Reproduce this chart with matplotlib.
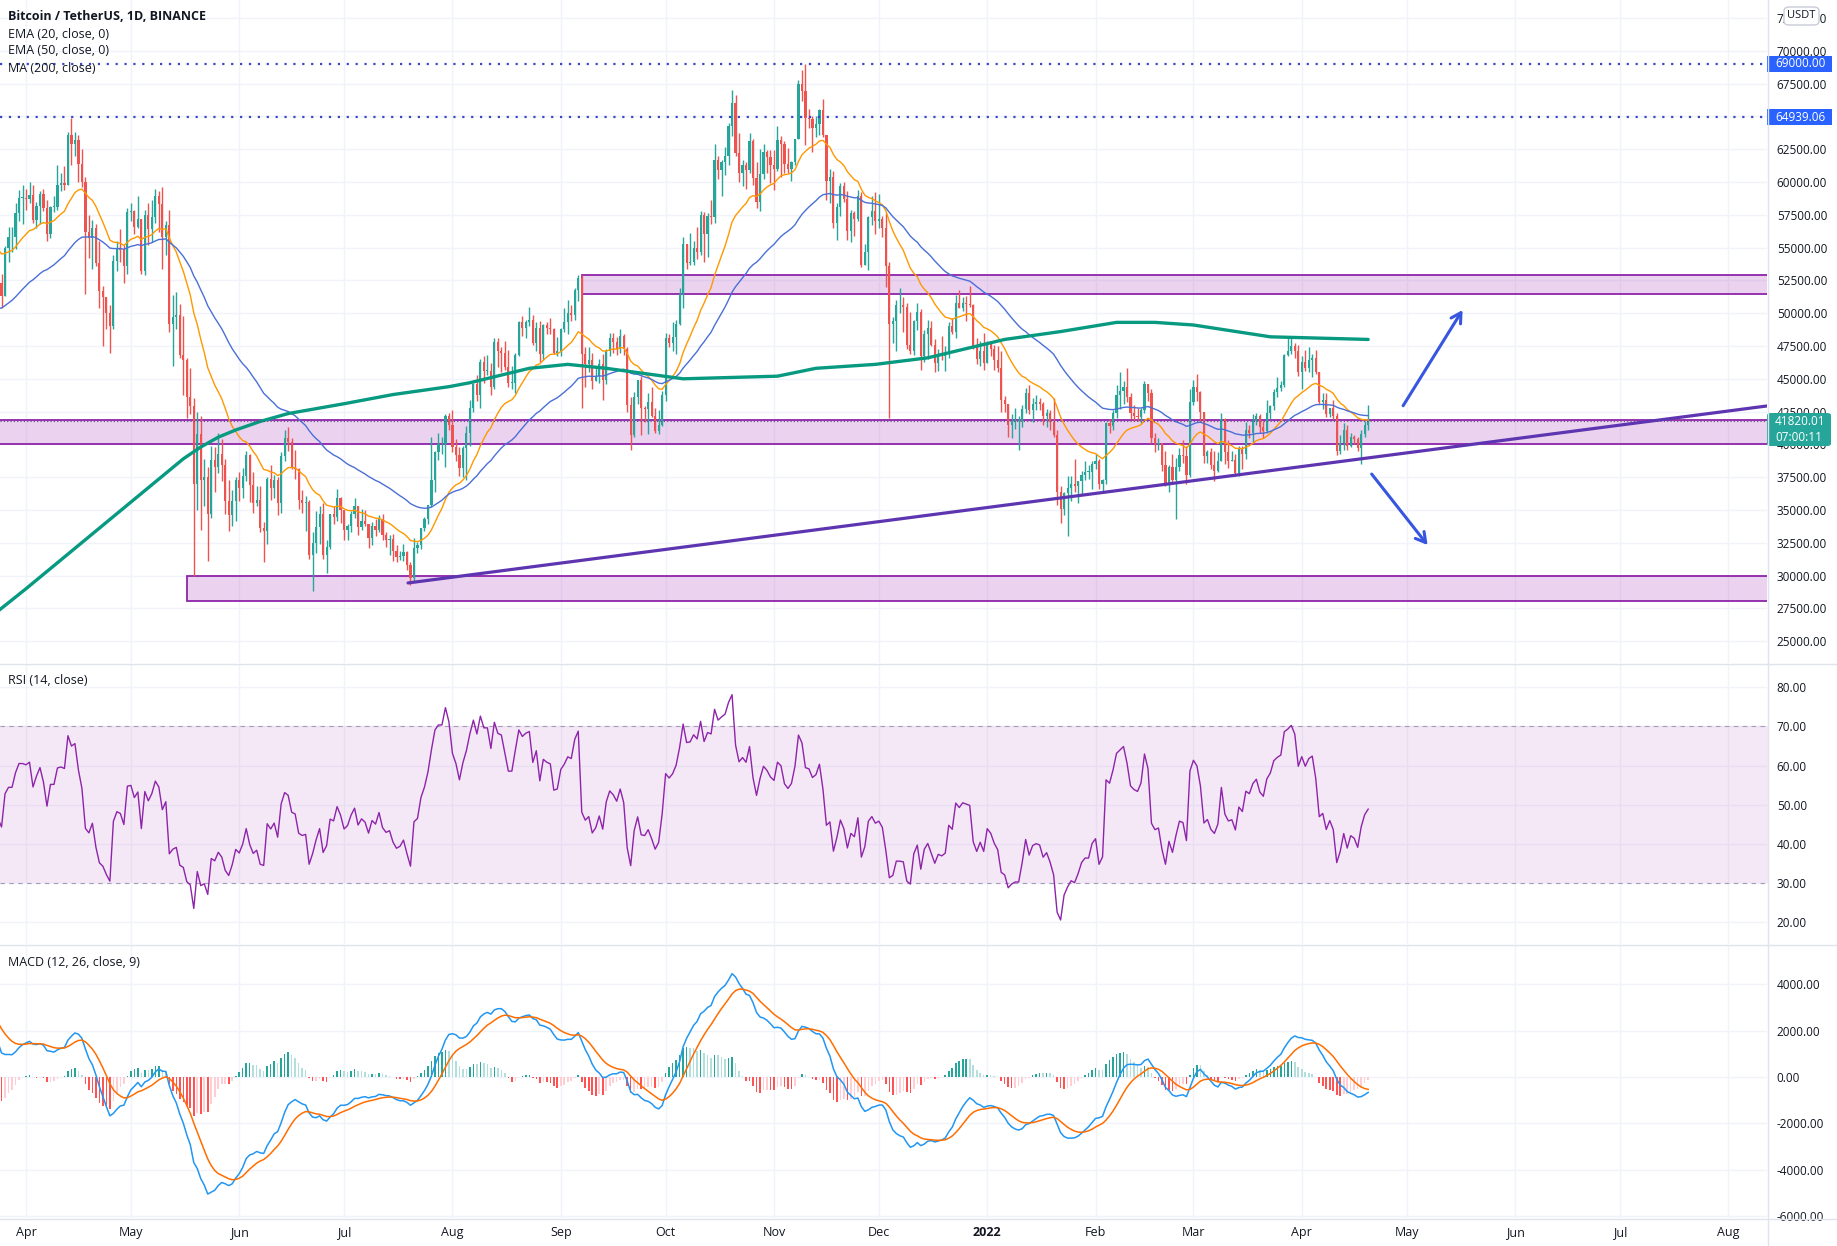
import matplotlib.pyplot as plt
import matplotlib.patches as mpatches
from matplotlib.lines import Line2D
import numpy as np
import pandas as pd

plt.rcParams['font.family'] = ['Open Sans', 'DejaVu Sans']

# BTC/USDT daily closes (thousands), 2021-01-01 .. 2021-03-23, only used to warm up the indicators
warmup_close = [
    29.4, 32.2, 33.0, 32.0, 34.0, 36.8, 39.4, 40.6, 40.2, 38.2, 35.5, 34.0, 37.4, 39.1, 36.8, 36.0,
    35.8, 36.6, 36.0, 35.5, 30.8, 33.0, 32.1, 32.3, 32.5, 32.5, 30.4, 33.5, 34.3, 34.3, 33.1,
    33.5, 35.5, 37.6, 36.9, 38.3, 39.2, 38.8, 46.4, 46.5, 44.8, 48.0, 47.4, 47.2, 48.6, 47.9, 49.1,
    52.1, 51.6, 55.9, 55.9, 57.4, 54.1, 48.9, 49.7, 47.1, 46.3, 46.1, 45.1,
    49.6, 48.4, 50.5, 48.4, 48.8, 48.9, 51.0, 52.4, 54.9, 55.9, 57.8, 57.2, 61.2, 59.0, 55.6, 56.9,
    58.9, 57.6, 58.3, 58.1, 57.4, 54.1, 54.3,
]

# candles 2021-03-24 .. 2022-04-20 (thousands); open = previous close
close = [
    52.3, 51.3, 55.0, 55.8, 55.8, 57.6, 58.8, 58.8,
    58.7, 59.0, 57.1, 58.2, 59.1, 58.0, 56.0, 58.1, 58.1, 59.8, 59.9, 59.8, 63.6, 62.9, 63.2, 61.4, 60.0, 56.2, 55.7, 56.5, 53.8, 51.7, 51.2, 50.0, 49.0, 54.0, 55.0, 54.8, 53.6, 57.7,
    57.8, 56.6, 57.2, 53.2, 57.5, 56.4, 57.3, 58.9, 58.3, 55.8, 56.7, 49.2, 49.7, 49.9, 46.8, 46.4, 43.6, 42.9, 37.0, 40.8, 37.3, 37.5, 34.7, 38.8, 38.3, 39.3, 38.4, 35.7, 34.6, 35.7, 37.3,
    36.7, 37.6, 39.2, 36.9, 35.5, 35.8, 33.6, 33.4, 37.4, 36.7, 37.3, 35.5, 39.1, 40.5, 40.2, 38.3, 38.1, 35.8, 35.5, 35.6, 31.6, 32.5, 33.7, 34.7, 31.6, 32.2, 34.7, 34.5, 35.9, 35.0,
    33.5, 33.8, 34.7, 35.3, 33.7, 34.2, 33.9, 32.9, 33.8, 33.5, 34.3, 33.1, 32.7, 32.8, 31.9, 31.4, 31.5, 31.8, 30.8, 29.8, 32.1, 32.3, 33.6, 34.3, 35.4, 37.3, 39.4, 40.0, 40.0, 42.2, 41.5,
    39.8, 39.2, 38.2, 39.7, 40.9, 42.8, 44.6, 43.8, 46.3, 45.6, 45.6, 44.4, 47.8, 47.1, 47.0, 45.9, 44.7, 44.7, 46.8, 49.3, 48.9, 49.3, 49.5, 47.7, 48.9, 46.9, 49.1, 48.9, 48.8, 47.0, 47.1,
    48.8, 49.3, 50.0, 49.9, 51.8, 52.7, 46.9, 46.1, 46.4, 44.8, 45.2, 46.1, 44.9, 47.1, 48.1, 47.8, 47.3, 48.3, 47.3, 43.0, 40.7, 43.6, 44.9, 42.8, 42.7, 43.2, 42.2, 41.0, 41.5, 43.8,
    48.1, 47.7, 48.2, 49.2, 51.5, 55.3, 53.8, 53.9, 55.0, 54.7, 57.5, 56.0, 57.4, 57.3, 61.7, 60.9, 61.5, 62.0, 64.3, 66.0, 62.2, 60.7, 61.3, 60.9, 63.1, 60.3, 58.5, 60.6, 62.3, 61.9, 61.3,
    61.0, 63.2, 62.9, 61.4, 61.0, 61.5, 63.3, 67.5, 66.9, 64.9, 64.8, 64.1, 64.4, 65.5, 63.6, 60.1, 60.4, 56.9, 58.1, 59.7, 58.7, 56.3, 57.6, 57.2, 58.9, 53.7, 54.7, 57.3, 57.8, 57.0,
    57.2, 56.5, 53.6, 49.2, 49.4, 50.6, 50.6, 50.5, 47.6, 47.1, 49.4, 50.1, 46.7, 48.4, 48.9, 47.6, 46.2, 46.9, 46.7, 46.9, 49.0, 48.6, 50.8, 50.4, 50.8, 50.7, 50.6, 47.5, 46.5, 47.1, 46.2,
    47.7, 47.3, 46.4, 45.8, 43.4, 43.1, 41.5, 41.7, 41.8, 41.8, 42.7, 43.9, 42.6, 43.1, 43.2, 43.1, 42.2, 42.4, 41.7, 40.7, 36.4, 35.1, 36.3, 36.7, 37.0, 36.8, 37.2, 37.7, 37.9, 37.9, 38.5,
    38.7, 37.0, 37.3, 41.6, 41.4, 42.4, 43.8, 44.1, 44.4, 43.6, 42.4, 42.2, 42.1, 42.6, 44.6, 43.9, 40.5, 40.0, 40.1, 38.4, 37.0, 38.3, 37.3, 38.3, 39.2, 39.1, 37.7, 43.2,
    44.4, 44.0, 42.5, 39.1, 39.4, 38.4, 38.0, 38.7, 41.9, 39.4, 38.7, 38.8, 37.8, 39.7, 39.3, 41.1, 40.9, 41.8, 42.2, 41.3, 41.0, 42.4, 42.9, 44.0, 44.3, 44.5, 46.8, 47.1, 47.5, 47.1, 45.5,
    46.3, 45.8, 46.4, 46.6, 45.5, 43.2, 43.4, 42.3, 42.8, 42.2, 39.5, 40.1, 41.1, 39.9, 40.6, 40.4, 39.7, 40.8, 41.5, 41.82001,
]
high = [
    57.2, 53.0, 55.1, 56.6, 56.6, 58.4, 59.4, 59.8,
    59.5, 60.0, 59.8, 58.5, 59.3, 59.5, 58.6, 58.2, 58.9, 61.3, 60.7, 61.2, 63.8, 64.9, 63.8, 63.6, 62.5, 60.4, 57.5, 57.1, 56.8, 55.5, 52.1, 51.2, 50.6, 54.4, 55.5, 56.4, 55.2, 58.0,
    58.4, 57.9, 58.9, 57.2, 57.9, 58.4, 58.6, 59.5, 59.3, 59.6, 57.0, 57.9, 51.4, 51.6, 50.7, 49.8, 46.6, 45.8, 43.5, 42.5, 42.2, 38.9, 38.3, 39.9, 39.8, 40.9, 40.4, 38.9, 37.3, 36.5, 37.5,
    37.9, 38.2, 39.5, 39.3, 37.9, 36.8, 36.8, 34.1, 37.5, 38.4, 37.7, 37.5, 39.4, 41.1, 41.3, 40.5, 39.6, 38.2, 36.5, 36.1, 35.8, 33.3, 34.9, 35.3, 35.5, 32.7, 34.7, 35.3, 36.6, 36.0,
    35.0, 33.9, 34.9, 35.9, 35.3, 35.1, 35.0, 33.9, 34.1, 34.3, 34.6, 34.7, 33.3, 33.1, 33.2, 32.3, 31.9, 32.4, 31.9, 31.0, 32.9, 32.6, 33.6, 34.5, 35.4, 40.6, 39.5, 40.9, 40.6, 42.3, 42.4,
    42.6, 40.4, 39.8, 39.9, 41.4, 43.4, 44.7, 45.3, 46.5, 46.7, 46.8, 46.2, 48.1, 48.1, 47.4, 47.9, 47.2, 46.0, 47.0, 49.4, 49.8, 49.5, 50.5, 49.9, 49.3, 49.4, 49.2, 49.3, 49.6, 48.9, 48.2,
    48.9, 50.4, 51.0, 50.6, 51.9, 52.9, 52.9, 47.4, 47.4, 47.0, 45.9, 46.5, 46.9, 47.3, 48.5, 48.5, 48.2, 48.8, 48.4, 47.4, 43.6, 44.0, 44.9, 45.2, 42.9, 43.9, 44.4, 42.8, 42.6, 44.1,
    48.5, 48.4, 49.3, 49.5, 51.9, 55.8, 55.3, 56.1, 55.5, 56.6, 57.8, 57.7, 57.6, 58.6, 62.9, 62.0, 61.7, 62.7, 64.5, 67.0, 66.6, 63.7, 61.7, 61.5, 63.7, 63.3, 61.5, 62.5, 62.9, 62.4, 62.4,
    62.4, 64.3, 63.5, 63.1, 62.6, 61.6, 63.3, 67.8, 68.5, 69.0, 65.6, 65.0, 65.0, 65.6, 66.3, 63.6, 61.0, 60.8, 58.4, 59.9, 60.0, 59.3, 57.9, 57.8, 59.4, 59.2, 55.3, 57.4, 58.9, 59.2,
    59.1, 57.4, 57.6, 53.9, 49.7, 51.0, 51.9, 51.2, 50.8, 50.1, 49.5, 50.8, 50.3, 48.7, 49.5, 49.4, 48.0, 47.3, 48.3, 47.5, 49.3, 49.6, 51.4, 51.8, 51.2, 51.3, 52.1, 50.7, 48.1, 47.9, 48.5,
    47.9, 47.9, 47.6, 47.5, 47.1, 43.7, 43.1, 42.3, 42.8, 42.2, 43.0, 44.3, 44.5, 43.5, 43.8, 43.5, 43.2, 42.7, 42.6, 43.5, 41.1, 36.8, 36.4, 37.6, 37.6, 38.9, 37.2, 38.0, 38.7, 38.4, 38.7,
    39.3, 38.9, 37.4, 41.7, 41.9, 42.6, 44.5, 45.5, 44.8, 45.8, 43.9, 43.0, 42.8, 42.8, 44.8, 44.6, 44.2, 40.9, 40.5, 40.1, 39.5, 38.4, 39.3, 39.0, 39.7, 40.3, 39.9, 44.2,
    44.9, 45.4, 44.1, 42.5, 39.6, 39.7, 39.5, 39.4, 42.4, 42.0, 40.3, 39.5, 39.3, 39.9, 39.9, 41.7, 41.5, 42.3, 42.4, 42.3, 41.8, 43.4, 43.0, 44.2, 45.1, 44.8, 46.9, 48.2, 48.1, 47.7, 47.6,
    46.7, 47.2, 47.4, 46.9, 47.2, 45.5, 43.9, 43.9, 42.8, 43.4, 42.4, 40.7, 41.6, 41.5, 40.9, 40.7, 40.6, 41.1, 41.8, 42.97,
]
low = [
    51.7, 50.4, 51.3, 53.9, 54.7, 54.9, 57.0, 56.8,
    57.9, 58.4, 56.9, 56.5, 56.8, 57.8, 55.5, 55.7, 57.7, 57.9, 59.3, 59.4, 59.8, 61.3, 62.0, 60.0, 59.6, 51.5, 54.2, 53.4, 53.6, 50.4, 47.5, 48.8, 47.0, 48.8, 53.2, 53.9, 52.3, 53.0,
    57.0, 56.0, 56.5, 53.0, 52.9, 55.2, 55.4, 56.9, 56.2, 53.4, 54.4, 48.6, 46.0, 48.8, 46.6, 43.8, 42.0, 42.3, 30.0, 35.0, 33.5, 35.3, 31.1, 34.4, 36.4, 37.8, 37.2, 34.7, 33.4, 33.8, 34.2,
    35.7, 35.9, 37.2, 35.6, 34.8, 35.3, 33.3, 31.0, 32.4, 35.8, 35.9, 34.6, 34.8, 38.7, 39.5, 38.1, 37.4, 35.1, 34.8, 33.4, 31.3, 28.8, 31.7, 32.4, 31.3, 30.2, 32.0, 33.9, 34.2, 34.0,
    32.7, 32.7, 33.3, 34.4, 33.1, 33.5, 33.8, 32.1, 32.3, 33.0, 33.3, 32.7, 32.2, 31.6, 31.1, 31.0, 31.2, 31.1, 30.4, 29.3, 29.5, 31.7, 32.0, 33.4, 33.9, 35.2, 36.4, 38.8, 39.3, 38.3, 41.1,
    39.4, 38.7, 37.6, 37.5, 37.3, 39.9, 42.5, 43.3, 42.8, 44.7, 45.3, 43.8, 44.2, 45.9, 45.5, 45.7, 44.4, 44.2, 43.9, 46.7, 48.3, 48.1, 49.0, 47.6, 47.1, 46.3, 46.4, 48.4, 48.4, 46.9, 46.7,
    46.7, 48.6, 48.4, 49.4, 49.5, 50.9, 42.8, 44.4, 45.5, 44.2, 44.8, 44.7, 43.4, 44.6, 46.7, 47.0, 46.8, 47.0, 46.8, 42.5, 39.6, 40.6, 43.1, 40.7, 41.7, 40.8, 42.1, 40.9, 40.8, 41.4,
    43.3, 47.4, 47.1, 46.9, 49.1, 50.4, 53.4, 53.7, 53.7, 54.1, 54.4, 53.9, 54.3, 56.8, 56.9, 60.2, 58.9, 60.5, 61.3, 63.5, 62.0, 60.0, 59.7, 59.5, 60.7, 59.8, 58.0, 57.8, 60.2, 60.7, 59.9,
    59.4, 60.8, 60.4, 60.7, 60.7, 60.1, 61.3, 63.3, 66.2, 62.8, 64.1, 62.3, 63.4, 63.6, 63.4, 58.6, 58.4, 56.5, 55.6, 57.4, 58.5, 55.6, 55.4, 55.9, 57.0, 53.5, 53.7, 53.3, 56.7, 56.0,
    56.5, 55.8, 52.0, 42.0, 47.7, 47.1, 50.0, 48.6, 47.3, 46.9, 46.8, 48.7, 45.7, 46.3, 46.5, 47.5, 45.5, 45.6, 46.4, 45.6, 46.6, 48.4, 48.1, 50.4, 50.2, 49.4, 50.5, 47.3, 46.1, 46.0, 45.7,
    46.2, 46.7, 45.7, 45.5, 42.5, 42.5, 40.6, 40.5, 41.2, 39.6, 41.3, 42.4, 42.3, 41.7, 42.6, 42.6, 41.5, 41.3, 41.1, 40.6, 35.4, 34.0, 34.6, 33.0, 35.7, 36.4, 35.5, 36.2, 37.3, 37.4, 36.6,
    38.1, 36.6, 36.3, 37.0, 40.9, 41.1, 42.0, 42.7, 43.1, 43.2, 41.9, 41.8, 41.8, 41.6, 42.4, 43.3, 40.1, 39.4, 39.6, 38.0, 36.8, 36.4, 37.1, 34.3, 38.0, 38.6, 37.0, 37.5,
    43.0, 43.3, 41.8, 38.6, 38.6, 38.1, 37.2, 37.9, 38.7, 38.5, 38.2, 38.7, 37.6, 37.6, 38.1, 38.9, 40.5, 40.1, 41.5, 40.9, 40.5, 40.9, 41.9, 42.6, 43.6, 44.1, 44.4, 46.7, 46.9, 46.6, 45.2,
    44.2, 45.6, 45.5, 45.1, 45.4, 43.1, 42.7, 42.1, 42.1, 41.9, 39.2, 39.3, 39.6, 39.6, 39.8, 40.0, 39.5, 38.5, 40.6, 41.1,
]

# MA(200): day offset from 2021-04-01, value in thousands
ma200_day = [-8, 0, 10, 20, 30, 40, 45, 50, 55, 60, 67, 75, 91, 105, 121, 127, 144, 155, 166,
             177, 188, 215, 226, 243, 258, 280, 296, 312, 323, 334, 356, 384]
ma200_val = [27.3, 29.0, 31.2, 33.4, 35.6, 37.8, 38.9, 39.8, 40.55, 41.1, 41.75, 42.35, 43.1,
             43.8, 44.4, 44.7, 45.8, 46.1, 45.8, 45.4, 45.0, 45.2, 45.8, 46.1, 46.6, 48.0, 48.6,
             49.3, 49.3, 49.1, 48.2, 48.0]

# drawings: zones (start day, low, high), trendline, arrows (day, price)
zone_start = [159, -20, 46]
zone_low = [51460, 40030, 28060]
zone_high = [52900, 41860, 29940]
trend_day = [109.3, 498.1]
trend_price = [29440, 42930]
arrow_tail = [(394, 42950), (385, 37740)]
arrow_head = [(411, 50240), (401, 32330)]
marked_levels = [69000.00, 64939.06]
last_price = 41820.01

# ---------------------------------------------------------------------------
W, H = 1837, 1246
PLOT_R = 1767
fig = plt.figure(figsize=(W / 100, H / 100), dpi=100)


def fx(px):
    return px / W


def fy(py):
    return 1 - py / H


ax = fig.add_axes([0, fy(663), fx(PLOT_R), 663 / H])
ax_rsi = fig.add_axes([0, fy(944), fx(PLOT_R), 280 / H], sharex=ax)
ax_macd = fig.add_axes([0, fy(1218), fx(PLOT_R), 273 / H], sharex=ax)

all_close = np.array(warmup_close + close) * 1000
days_all = np.arange(len(all_close)) - len(warmup_close) - 8
c = np.array(close) * 1000
h = np.array(high) * 1000
l = np.array(low) * 1000
o = all_close[len(warmup_close) - 1:len(warmup_close) - 1 + len(c)]
days = np.arange(len(c)) - 8

s = pd.Series(all_close)
ema20 = s.ewm(span=20, adjust=False).mean()
ema50 = s.ewm(span=50, adjust=False).mean()
delta = s.diff()
up_avg = delta.clip(lower=0).ewm(alpha=1 / 14, adjust=False).mean()
dn_avg = (-delta.clip(upper=0)).ewm(alpha=1 / 14, adjust=False).mean()
rsi = 100 - 100 / (1 + up_avg / dn_avg)
macd = s.ewm(span=12, adjust=False).mean() - s.ewm(span=26, adjust=False).mean()
signal = macd.ewm(span=9, adjust=False).mean()
hist = (macd - signal).values

GREEN, RED = '#26a69a', '#ef5350'
GRID = '#f0f3fa'
TXT = '#131722'

# --- price pane ---
YLO, YHI = 23340, 73870
XLO, XHI = -7.44, 498.1
for z0, zl, zh in zip(zone_start, zone_low, zone_high):
    ax.add_patch(mpatches.Rectangle((z0, zl), XHI + 20 - z0, zh - zl, facecolor='#9c27b0',
                                    alpha=0.2, edgecolor='none', zorder=1))
    ax.add_patch(mpatches.Rectangle((z0, zl), XHI + 20 - z0, zh - zl, facecolor='none',
                                    edgecolor='#8e24aa', lw=1.3, zorder=1.5))

col = np.where(c >= o, GREEN, RED)
ax.vlines(days, l, h, colors=col, lw=1, zorder=3)
ax.bar(days, np.maximum(np.abs(c - o), 40), bottom=np.minimum(o, c), width=0.62,
       color=col, linewidth=0, zorder=4)

vis = days_all >= -10
ax.plot(days_all[vis], ema20[vis], color='#ff9800', lw=1, zorder=5)
ax.plot(days_all[vis], ema50[vis], color='#4a6fd6', lw=1, zorder=5)
ax.plot(ma200_day, np.array(ma200_val) * 1000, color='#089981', lw=2.4, zorder=5,
        solid_capstyle='round', solid_joinstyle='round')

for lv in marked_levels:
    ax.axhline(lv, color='#3949c6', lw=1.6, ls=(0, (1, 3)), zorder=6)
ax.axhline(last_price, color='#5d4a7a', lw=0.8, ls=(0, (1, 2)), zorder=6)

ax.plot(trend_day, trend_price, color='#5e35b1', lw=2.3, zorder=7, solid_capstyle='round')
for (tx, ty), (hx, hy) in zip(arrow_tail, arrow_head):
    ax.annotate('', xy=(hx, hy), xytext=(tx, ty), zorder=8,
                arrowprops=dict(arrowstyle='->,head_length=0.7,head_width=0.4',
                                color='#3656e0', lw=2.2, shrinkA=0, shrinkB=0))

ax.set_ylim(YLO, YHI)
ax.set_yticks(np.arange(25000, 72501, 2500))
ax.set_yticklabels([f'{v:.2f}' for v in np.arange(25000, 72501, 2500)])

# --- RSI pane ---
ax_rsi.fill_between([XLO - 10, XHI + 10], 30, 70, color='#9c27b0', alpha=0.1, lw=0, zorder=1)
for lv in (70, 30):
    ax_rsi.axhline(lv, color='#a59bb4', lw=0.8, ls=(0, (4, 4)), zorder=2)
ax_rsi.plot(days_all[vis], rsi[vis], color='#8e24aa', lw=1, zorder=3)
ax_rsi.set_ylim(14.5, 85.9)
ax_rsi.set_yticks(np.arange(20, 81, 10))
ax_rsi.set_yticklabels([f'{v:.2f}' for v in np.arange(20, 81, 10)])

# --- MACD pane ---
hcol = []
for i in range(len(hist)):
    prev = hist[i - 1] if i > 0 else hist[i]
    if hist[i] >= 0:
        hcol.append('#26a69a' if hist[i] > prev else '#b2dfdb')
    else:
        hcol.append('#ff5252' if hist[i] < prev else '#ffcdd2')
hcol = np.array(hcol)
ax_macd.bar(days_all[vis], hist[vis], width=0.45, color=hcol[vis], linewidth=0, zorder=2)
ax_macd.plot(days_all[vis], macd[vis], color='#2196f3', lw=1.1, zorder=3)
ax_macd.plot(days_all[vis], signal[vis], color='#ff6d00', lw=1.1, zorder=3)
ax_macd.set_ylim(-6080, 5690)
ax_macd.set_yticks(np.arange(-6000, 4001, 2000))
ax_macd.set_yticklabels([f'{v:.2f}' for v in np.arange(-6000, 4001, 2000)])

# --- shared x axis, months ---
months = pd.date_range('2021-04-01', '2022-08-01', freq='MS')
mdays = [(m - pd.Timestamp('2021-04-01')).days for m in months]
mlabels = ['2022' if m.month == 1 else m.strftime('%b') for m in months]

for a in (ax, ax_rsi, ax_macd):
    a.set_xlim(XLO, XHI)
    a.set_xticks(mdays)
    a.grid(True, color=GRID, lw=1, zorder=0)
    a.set_axisbelow(True)
    for sp in a.spines.values():
        sp.set_visible(False)
    a.yaxis.tick_right()
    a.tick_params(axis='y', length=0, pad=7, labelsize=8.5, labelcolor=TXT)
    a.tick_params(axis='x', length=0, labelbottom=False)
    a.set_facecolor('white')

ax_macd.tick_params(axis='x', labelbottom=True, pad=6, labelsize=9, labelcolor=TXT)
ax_macd.set_xticklabels(mlabels)
for t in ax_macd.get_xticklabels():
    if t.get_text() == '2022':
        t.set_fontweight('bold')

# --- separators ---
for yy in (663.5, 944.5, 1218.5):
    fig.add_artist(Line2D([0, 1], [fy(yy), fy(yy)], color='#e0e3eb', lw=1))
fig.add_artist(Line2D([fx(PLOT_R + 0.5)] * 2, [0, 1], color='#e0e3eb', lw=1))


# --- price labels on the axis ---
def price_px(p):
    return 663 * (1 - (p - YLO) / (YHI - YLO))


for lv in marked_levels:
    yp = price_px(lv)
    fig.add_artist(mpatches.Rectangle((fx(PLOT_R), fy(yp + 8)), fx(65), 16 / H,
                                      facecolor='#2962ff', edgecolor='none'))
    fig.text(fx(1775), fy(yp), f'{lv:.2f}', color='white', fontsize=8.5, va='center')

yp = price_px(last_price)
fig.add_artist(mpatches.FancyBboxPatch((fx(PLOT_R), fy(446)), fx(64), 33 / H,
                                       boxstyle='round,pad=0,rounding_size=0.002',
                                       facecolor='#26a69a', edgecolor='none'))
fig.text(fx(1775), fy(yp + 1), f'{last_price:.2f}', color='white', fontsize=8.5, va='center')
fig.text(fx(1775), fy(yp + 17), '07:00:11', color='white', fontsize=8.5, va='center')

fig.add_artist(mpatches.FancyBboxPatch((fx(1784), fy(25)), fx(35), 18 / H,
                                       boxstyle='round,pad=0,rounding_size=0.003',
                                       facecolor='white', edgecolor='#c9ccd6', lw=1))
fig.text(fx(1801.5), fy(16), 'USDT', color=TXT, fontsize=8, ha='center', va='center')

# --- legends ---
fig.text(fx(8), fy(16), 'Bitcoin / TetherUS, 1D, BINANCE', fontsize=9, fontweight='bold',
         color=TXT, va='center')
for i, lab in enumerate(['EMA (20, close, 0)', 'EMA (50, close, 0)', 'MA (200, close)']):
    fig.text(fx(8), fy(34 + 17 * i), lab, fontsize=9, color=TXT, va='center')
fig.text(fx(8), fy(681), 'RSI (14, close)', fontsize=9, color=TXT, va='center')
fig.text(fx(8), fy(963), 'MACD (12, 26, close, 9)', fontsize=9, color=TXT, va='center')

fig.savefig('out.png', dpi=100, facecolor='white')
